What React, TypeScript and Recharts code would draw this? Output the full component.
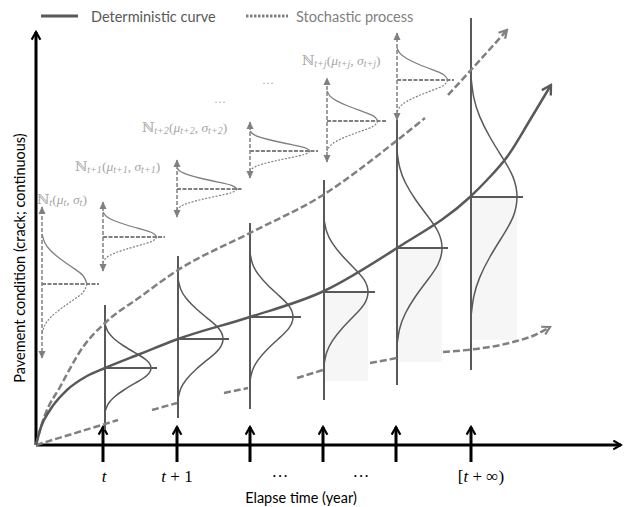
import { ComposedChart, Line, XAxis, YAxis, ReferenceLine, ReferenceArea, ReferenceDot } from 'recharts';

// one x unit = 10px of the figure, one y unit = 10px (origin at the axes corner)
const X_DOMAIN = [-3.6, 59.1];
const Y_DOMAIN = [-6.2, 44.5];

const DARK = '#595959';
const GREY = '#808080';
const LIGHT = '#a6a6a6';

// deterministic curve (mean condition)
const detCurve = [
  { x: 0, y: 0 }, { x: 0.5, y: 1.8 }, { x: 1.4, y: 3.5 }, { x: 3.1, y: 5.5 }, { x: 5.1, y: 6.9 },
  { x: 6.9, y: 7.7 }, { x: 10.4, y: 9.1 }, { x: 14.2, y: 10.6 }, { x: 21.4, y: 12.8 }, { x: 28.8, y: 15.4 },
  { x: 36.1, y: 19.7 }, { x: 43.4, y: 24.8 }, { x: 45.1, y: 26.5 }, { x: 47.1, y: 28.8 }, { x: 49.4, y: 32.5 },
  { x: 51.5, y: 36 },
];

// upper stochastic path
const upperPath = [
  { x: 0, y: 0 }, { x: 0.4, y: 1.5 }, { x: 0.9, y: 3 }, { x: 2.4, y: 5.8 }, { x: 4.7, y: 9.8 },
  { x: 6.9, y: 12.2 }, { x: 10.4, y: 14.8 }, { x: 14.2, y: 17.5 }, { x: 21.4, y: 21.2 }, { x: 28.7, y: 25 },
  { x: 35.9, y: 30.3 }, { x: 38.9, y: 32.7 }, { x: 40, y: null }, { x: 41.2, y: 35 }, { x: 43.5, y: 37.5 },
  { x: 47.1, y: 41.5 },
];

// lower stochastic path (broken in pieces)
const lowerPath = [
  { x: 0, y: 0 }, { x: 8.2, y: 2.5 }, { x: 10, y: null },
  { x: 11.6, y: 3.5 }, { x: 14.1, y: 4.2 }, { x: 16, y: null },
  { x: 18.8, y: 5.2 }, { x: 21.2, y: 5.7 }, { x: 24, y: null },
  { x: 26.1, y: 6.7 }, { x: 28.7, y: 7.5 }, { x: 31, y: null },
  { x: 33.4, y: 8.2 }, { x: 36.1, y: 8.7 }, { x: 38.5, y: null },
  { x: 40.7, y: 9.3 }, { x: 47.7, y: 10.3 }, { x: 49.9, y: 11 }, { x: 51.4, y: 11.8 },
];

// deterministic distributions at each time step
const detX = [6.9, 14.2, 21.4, 28.8, 36.1, 43.5];
const detMean = [7.7, 10.6, 12.8, 15.3, 19.7, 24.8];
const detTop = [14, 18.9, 22.2, 26.5, 32.5, 42.7];
const detBottom = [1.5, 2.7, 3.6, 4.5, 6, 7.5];
const detSpread = [4.4, 6, 6.4, 7.3, 9.7, 12];
const detPeak = [4.6, 4.5, 4.3, 4.4, 4.5, 4.6];
const detMeanLen = [5.2, 5.1, 5.1, 5.1, 5.1, 5.2];
const detShade = [null, null, null, 6.4, 8.3, 10.5];

// stochastic distributions
const stoX = [0.6, 6.7, 14.1, 21.4, 29.1, 36.1];
const stoMean = [16.1, 20.8, 25.6, 29.4, 32.4, 36.5];
const stoTop = [23.8, 24.3, 28.5, 32.3, 36.7, 41.2];
const stoBottom = [8.7, 17.4, 22.8, 26.7, 28.3, 32.5];
const stoSpread = [5.0, 2.5, 2.1, 2.0, 3.0, 3.2];
const stoPeak = [4.5, 5.4, 6.0, 6.0, 5.1, 5.1];
const stoMeanLen = [5.7, 6.2, 6.6, 6.8, 6.0, 5.7];

// bell outline: position along spread (+1 top .. -1 bottom) and share of peak width
const bellPos = [1, 0.83, 0.67, 0.5, 0.33, 0.17, 0, -0.17, -0.33, -0.5, -0.67, -0.83, -1];
const bellShape = [0, 0.06, 0.19, 0.41, 0.68, 0.91, 1, 0.91, 0.68, 0.41, 0.19, 0.06, 0];

// distribution labels
const distSubs = ['t', 't+1', 't+2', 't+j'];
const distLabelX = [0.1, 3.9, 10.6, 26.6];
const distLabelY = [24.6, 27.9, 31.8, 38.5];
const dotsX = [18.4, 23.2];
const dotsY = [34.3, 36.2];

// time axis
const tickX = [6.7, 14.1, 21.4, 28.7, 36.0, 43.5];
const tickLabels = ['t', 't + 1', '···', '···', '[t + ∞)'];
const tickLabelX = [6.8, 14.1, 24.4, 32.5, 44.5];

const bell = (cx: number, mean: number, spread: number, peak: number, from = 0, to = bellPos.length - 1) =>
  bellPos.slice(from, to + 1).map((u, i) => ({ x: cx + peak * bellShape[from + i], y: mean + spread * u }));

const seg = (key: string, x1: number, y1: number, x2: number, y2: number, style: any) => (
  <ReferenceLine
    key={key}
    segment={[{ x: x1, y: y1 }, { x: x2, y: y2 }]}
    ifOverflow="visible"
    shape={(p: any) => <line x1={p.x1} y1={p.y1} x2={p.x2} y2={p.y2} fill="none" {...style} />}
  />
);

const txt = (key: string, x: number, y: number, render: (cx: number, cy: number) => any) => (
  <ReferenceDot key={key} x={x} y={y} r={0} ifOverflow="visible" shape={(p: any) => render(p.cx, p.cy)} />
);

const mathText = (s: string) =>
  s.split(/(t)/).filter(Boolean).map((part, i) => (
    <tspan key={i} fontStyle={part === 't' ? 'italic' : 'normal'}>{part}</tspan>
  ));

const distLabel = (sub: string) => [
  <tspan key="n" fontStyle="normal">ℕ</tspan>,
  <tspan key="s1" fontSize={10} dy={3}>{sub}</tspan>,
  <tspan key="p" dy={-3} fontStyle="normal">(</tspan>,
  <tspan key="m">μ</tspan>,
  <tspan key="s2" fontSize={10} dy={3}>{sub}</tspan>,
  <tspan key="c" dy={-3} fontStyle="normal">, </tspan>,
  <tspan key="g">σ</tspan>,
  <tspan key="s3" fontSize={10} dy={3}>{sub}</tspan>,
  <tspan key="e" dy={-3} fontStyle="normal">)</tspan>,
];

const SANS = 'Lato, "Open Sans", sans-serif';
const SERIF = '"Liberation Serif", "DejaVu Serif", serif';

export default function App() {
  const last = (arr: { x: number; y: number | null }[]) => arr.slice(-2) as { x: number; y: number }[];
  const [d0, d1] = last(detCurve);
  const [u0, u1] = last(upperPath);
  const [l0, l1] = last(lowerPath);

  return (
    <div style={{ position: 'absolute', left: 0, top: 0, background: '#fff' }}>
      <ComposedChart width={627} height={507} margin={{ top: 0, right: 0, bottom: 0, left: 0 }}>
        <defs>
          <marker id="arrBlack" viewBox="0 0 10 10" refX="8.5" refY="5" markerWidth="11" markerHeight="11" markerUnits="userSpaceOnUse" orient="auto">
            <path d="M1.5,1 L8.5,5 L1.5,9" fill="none" stroke="#000" strokeWidth="2" />
          </marker>
          <marker id="arrDark" viewBox="0 0 10 10" refX="8.5" refY="5" markerWidth="13" markerHeight="13" markerUnits="userSpaceOnUse" orient="auto">
            <path d="M1.5,1 L8.5,5 L1.5,9" fill="none" stroke={DARK} strokeWidth="1.8" />
          </marker>
          <marker id="arrGrey" viewBox="0 0 10 10" refX="8.5" refY="5" markerWidth="11" markerHeight="11" markerUnits="userSpaceOnUse" orient="auto">
            <path d="M1.5,1 L8.5,5 L1.5,9" fill="none" stroke={GREY} strokeWidth="2" />
          </marker>
          <marker id="triGrey" viewBox="0 0 10 10" refX="9" refY="5" markerWidth="8" markerHeight="8" markerUnits="userSpaceOnUse" orient="auto-start-reverse">
            <path d="M0,0.5 L10,5 L0,9.5 Z" fill={GREY} />
          </marker>
        </defs>
        <XAxis type="number" dataKey="x" domain={X_DOMAIN} allowDataOverflow hide />
        <YAxis type="number" domain={Y_DOMAIN} allowDataOverflow hide />

        {detShade.map((b, i) =>
          b == null ? null : (
            <ReferenceArea key={`sh${i}`} x1={detX[i]} x2={detX[i] + detPeak[i]} y1={b} y2={detMean[i]} fill="#f6f6f6" fillOpacity={1} stroke="none" ifOverflow="visible" />
          ),
        )}

        {/* axes */}
        {seg('xa', 0, 0, 58.5, 0, { stroke: '#000', strokeWidth: 3, markerEnd: 'url(#arrBlack)' })}
        {seg('ya', 0, 0, 0, 41.3, { stroke: '#000', strokeWidth: 3, markerEnd: 'url(#arrBlack)' })}
        {tickX.map((x, i) => seg(`tk${i}`, x, -1.7, x, 1.8, { stroke: '#000', strokeWidth: 3, markerEnd: 'url(#arrBlack)' }))}

        {/* deterministic distributions */}
        {detX.map((x, i) => seg(`dv${i}`, x, detBottom[i], x, detTop[i], { stroke: DARK, strokeWidth: 2 }))}
        {detX.map((x, i) => seg(`dm${i}`, x, detMean[i], x + detMeanLen[i], detMean[i], { stroke: DARK, strokeWidth: 2 }))}
        {detX.map((x, i) => (
          <Line key={`db${i}`} data={bell(x, detMean[i], detSpread[i], detPeak[i])} dataKey="y" type="natural" stroke={DARK} strokeWidth={1.5} dot={false} activeDot={false} isAnimationActive={false} />
        ))}

        {/* stochastic distributions */}
        {stoX.map((x, i) => seg(`sv${i}`, x, stoBottom[i], x, stoTop[i], { stroke: GREY, strokeWidth: 1.5, strokeDasharray: '4 2', markerStart: 'url(#triGrey)', markerEnd: 'url(#triGrey)' }))}
        {stoX.map((x, i) => seg(`sm${i}`, x, stoMean[i], x + stoMeanLen[i], stoMean[i], { stroke: GREY, strokeWidth: 2, strokeDasharray: '4 1.5' }))}
        {stoX.map((x, i) => (
          <Line key={`su${i}`} data={bell(x, stoMean[i], stoSpread[i], stoPeak[i], 0, 6)} dataKey="y" type="natural" stroke={GREY} strokeWidth={1.3} dot={false} activeDot={false} isAnimationActive={false} />
        ))}
        {stoX.map((x, i) => (
          <Line key={`sl${i}`} data={bell(x, stoMean[i], stoSpread[i], stoPeak[i], 6, 12)} dataKey="y" type="natural" stroke={GREY} strokeWidth={1.2} strokeDasharray="2 1.5" dot={false} activeDot={false} isAnimationActive={false} />
        ))}

        {/* main curves */}
        <Line data={upperPath} dataKey="y" type="monotone" stroke={GREY} strokeWidth={2.5} strokeDasharray="7 3" dot={false} activeDot={false} isAnimationActive={false} />
        <Line data={lowerPath} dataKey="y" type="monotone" stroke={GREY} strokeWidth={2.5} strokeDasharray="7 3" dot={false} activeDot={false} isAnimationActive={false} />
        <Line data={detCurve} dataKey="y" type="monotone" stroke={DARK} strokeWidth={2.5} dot={false} activeDot={false} isAnimationActive={false} />
        {seg('da', d0.x, d0.y, d1.x, d1.y, { stroke: DARK, strokeOpacity: 0, markerEnd: 'url(#arrDark)' })}
        {seg('ua', u0.x, u0.y, u1.x, u1.y, { stroke: GREY, strokeOpacity: 0, markerEnd: 'url(#arrGrey)' })}
        {seg('la', l0.x, l0.y, l1.x, l1.y, { stroke: GREY, strokeOpacity: 0, markerEnd: 'url(#arrGrey)' })}

        {/* legend */}
        {seg('lg1', 0.5, 42.9, 4.2, 42.9, { stroke: DARK, strokeWidth: 3 })}
        {txt('lt1', 5.5, 42.9, (cx, cy) => (
          <text x={cx} y={cy} fill={DARK} fontFamily={SANS} fontSize={14.5} dominantBaseline="central">Deterministic curve</text>
        ))}
        {seg('lg2', 21, 42.9, 25.2, 42.9, { stroke: GREY, strokeWidth: 3, strokeDasharray: '2.5 1.5' })}
        {txt('lt2', 26, 42.9, (cx, cy) => (
          <text x={cx} y={cy} fill={GREY} fontFamily={SANS} fontSize={14.5} dominantBaseline="central">Stochastic process</text>
        ))}

        {/* distribution labels */}
        {distSubs.map((s, i) =>
          txt(`dl${i}`, distLabelX[i], distLabelY[i], (cx, cy) => (
            <text x={cx} y={cy} fill={LIGHT} fontFamily={SERIF} fontSize={13.5} fontStyle="italic" dominantBaseline="central">{distLabel(s)}</text>
          )),
        )}
        {dotsX.map((x, i) =>
          txt(`dd${i}`, x, dotsY[i], (cx, cy) => (
            <text x={cx} y={cy} fill={LIGHT} fontFamily={SERIF} fontSize={12} textAnchor="middle" dominantBaseline="central">···</text>
          )),
        )}

        {/* tick labels and axis titles */}
        {tickLabels.map((l, i) =>
          txt(`tl${i}`, tickLabelX[i], -3.1, (cx, cy) => (
            <text x={cx} y={cy} fill="#000" fontFamily={SERIF} fontSize={17} textAnchor="middle" dominantBaseline="central">{mathText(l)}</text>
          )),
        )}
        {txt('xt', 26.5, -5.2, (cx, cy) => (
          <text x={cx} y={cy} fill="#000" fontFamily={SANS} fontSize={14.5} textAnchor="middle" dominantBaseline="central">Elapse time (year)</text>
        ))}
        {txt('yt', -1.7, 18.7, (cx, cy) => (
          <text x={cx} y={cy} fill="#000" fontFamily={SANS} fontSize={14.5} textAnchor="middle" dominantBaseline="central" transform={`rotate(-90 ${cx} ${cy})`}>
            Pavement condition (crack; continuous)
          </text>
        ))}
      </ComposedChart>
    </div>
  );
}
